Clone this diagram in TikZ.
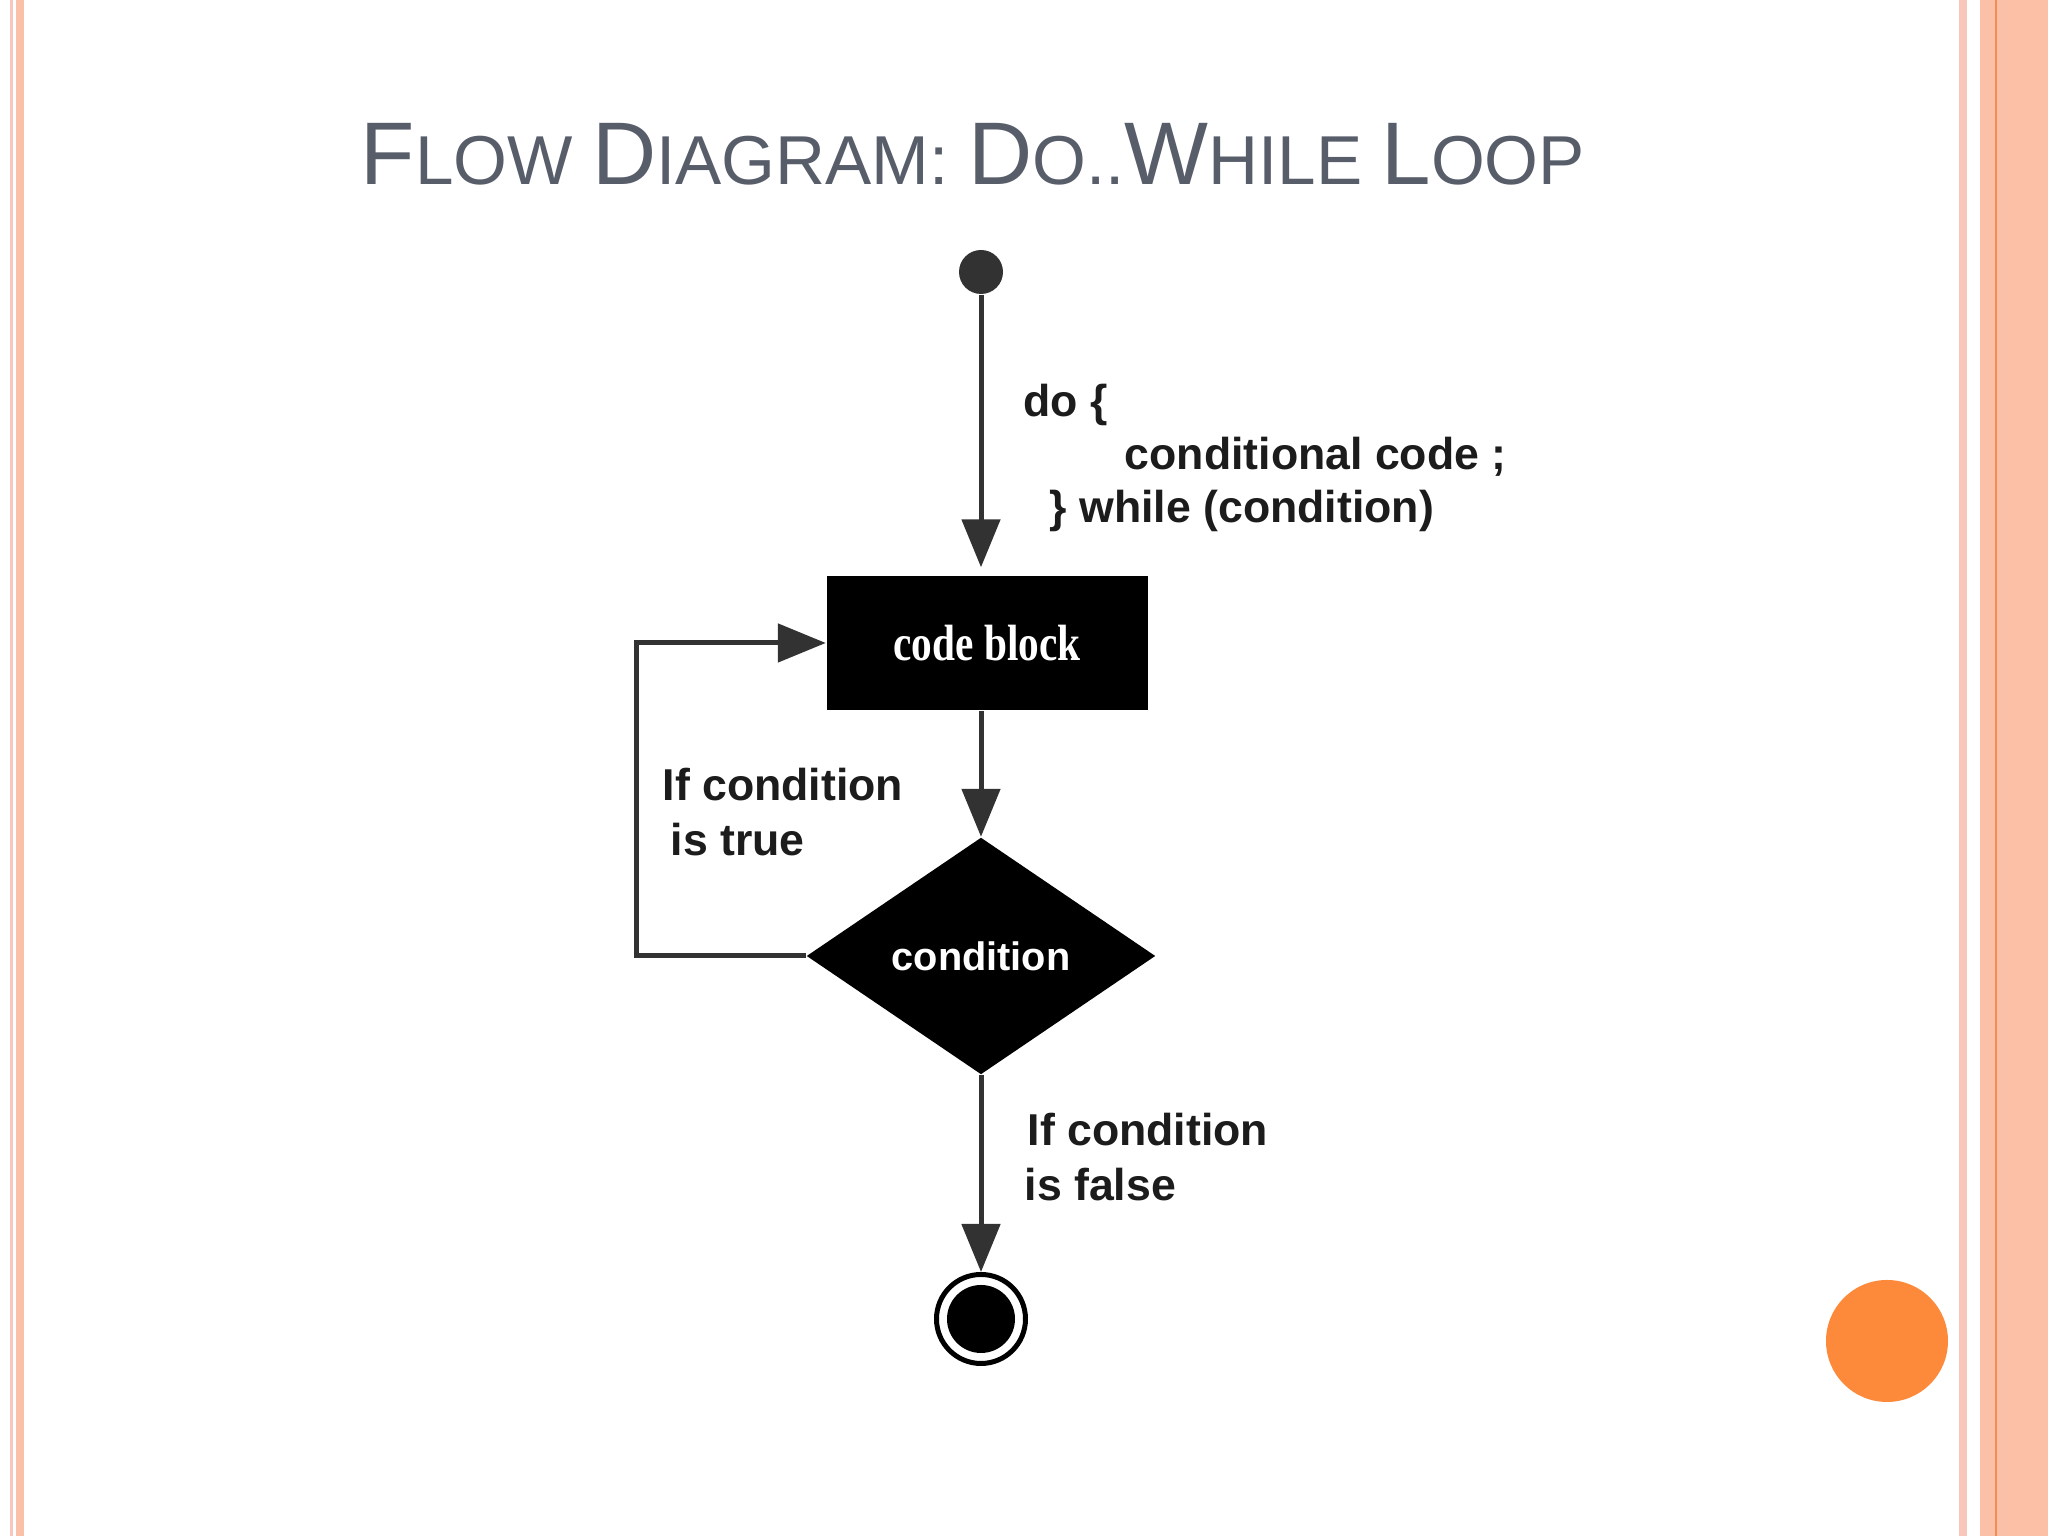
\documentclass[tikz,border=0pt]{standalone}
\usepackage{fontspec}
\usepackage{graphicx}
\setmainfont{Liberation Sans}
\newfontfamily\blockfont{Liberation Serif}
\usetikzlibrary{shapes.geometric,arrows.meta}

\definecolor{titlegray}{RGB}{88,93,106}
\definecolor{linegray}{RGB}{50,50,50}
\definecolor{dotgray}{RGB}{50,50,50}
\definecolor{lblblack}{RGB}{28,28,28}
\definecolor{pinkline}{RGB}{248,198,186}
\definecolor{salmon}{RGB}{251,193,168}
\definecolor{salmondark}{RGB}{251,192,166}
\definecolor{orangeline}{RGB}{245,140,80}
\definecolor{dotorange}{RGB}{253,137,59}

\newcommand{\bigcapl}[1]{{\fontsize{25.3}{30}\selectfont #1}}

\begin{document}
\begin{tikzpicture}[auto,
  flowline/.style={draw=linegray, line width=0.05cm, -{Triangle[length=0.48cm,width=0.38cm]}},
  lbl/.style={anchor=west, inner sep=0pt, text=lblblack, font=\fontsize{12.7}{15}\selectfont\bfseries}]

  \fill[white] (0,0) rectangle (20.48,15.36);
  \useasboundingbox (0,0) rectangle (20.48,15.36);

  % slide borders
  \fill[pinkline] (0.10,0) rectangle (0.133,15.36);
  \fill[salmon] (0.16,0) rectangle (0.24,15.36);
  \fill[pinkline] (19.587,0) rectangle (19.667,15.36);
  \fill[salmon] (19.80,0) rectangle (20.48,15.36);
  \fill[salmondark] (20.12,0) rectangle (20.48,15.36);
  \fill[orangeline] (19.95,0) rectangle (19.973,15.36);
  \fill[dotorange] (18.87,1.95) circle (0.61);

  % title
  \node[anchor=base, inner sep=0pt, text=titlegray, font=\fontsize{19.7}{24}\selectfont] (title) at (9.73,13.51)
    {\bigcapl{F}LOW \bigcapl{D}IAGRAM: \bigcapl{D}O..\bigcapl{W}HILE \bigcapl{L}OOP};

  % flow nodes
  \node[circle, fill=dotgray, minimum size=0.44cm, inner sep=0pt] (start) at (9.81,12.64) {};
  \node[fill=black, minimum width=3.21cm, minimum height=1.34cm, text=white, font=\blockfont\fontsize{14.5}{17}\selectfont\bfseries] (block) at (9.87,8.93) {\scalebox{0.81}[1]{code block}};
  \node[diamond, aspect=1.47, fill=black, minimum width=3.49cm, minimum height=2.37cm, inner sep=0pt, text=white, font=\fontsize{11.3}{14}\selectfont\bfseries] (cond) at (9.81,5.80) {condition};
  \node[circle, draw=black, line width=0.05cm, minimum size=0.89cm, inner sep=0pt] (stop) at (9.81,2.17) {};
  \node[circle, fill=black, minimum size=0.68cm, inner sep=0pt] (stopdot) at (stop) {};

  \coordinate (bendlow) at (6.36,5.80);
  \coordinate (bendhigh) at (6.36,8.93);

  % connectors
  \draw[flowline, shorten >=0.08cm] (start) -- (start |- block.north);
  \draw[flowline] (cond |- block.south) -- (cond.north);
  \draw[flowline] (cond.west) -- (bendlow) -- (bendhigh) -- (block.west);
  \draw[flowline] (cond.south) -- (stop.north);

  % labels
  \node[lbl] (doline) at (10.23,11.31) {do \{};
  \node[lbl] (codeline) at (11.24,10.79) {conditional code ;};
  \node[lbl] (whileline) at (10.49,10.25) {\} while (condition)};
  \node[lbl] (truea) at (6.62,7.51) {If condition};
  \node[lbl] (trueb) at (6.70,6.96) {is true};
  \node[lbl] (falsea) at (10.27,4.06) {If condition};
  \node[lbl] (falseb) at (10.24,3.51) {is false};

\end{tikzpicture}
\end{document}
